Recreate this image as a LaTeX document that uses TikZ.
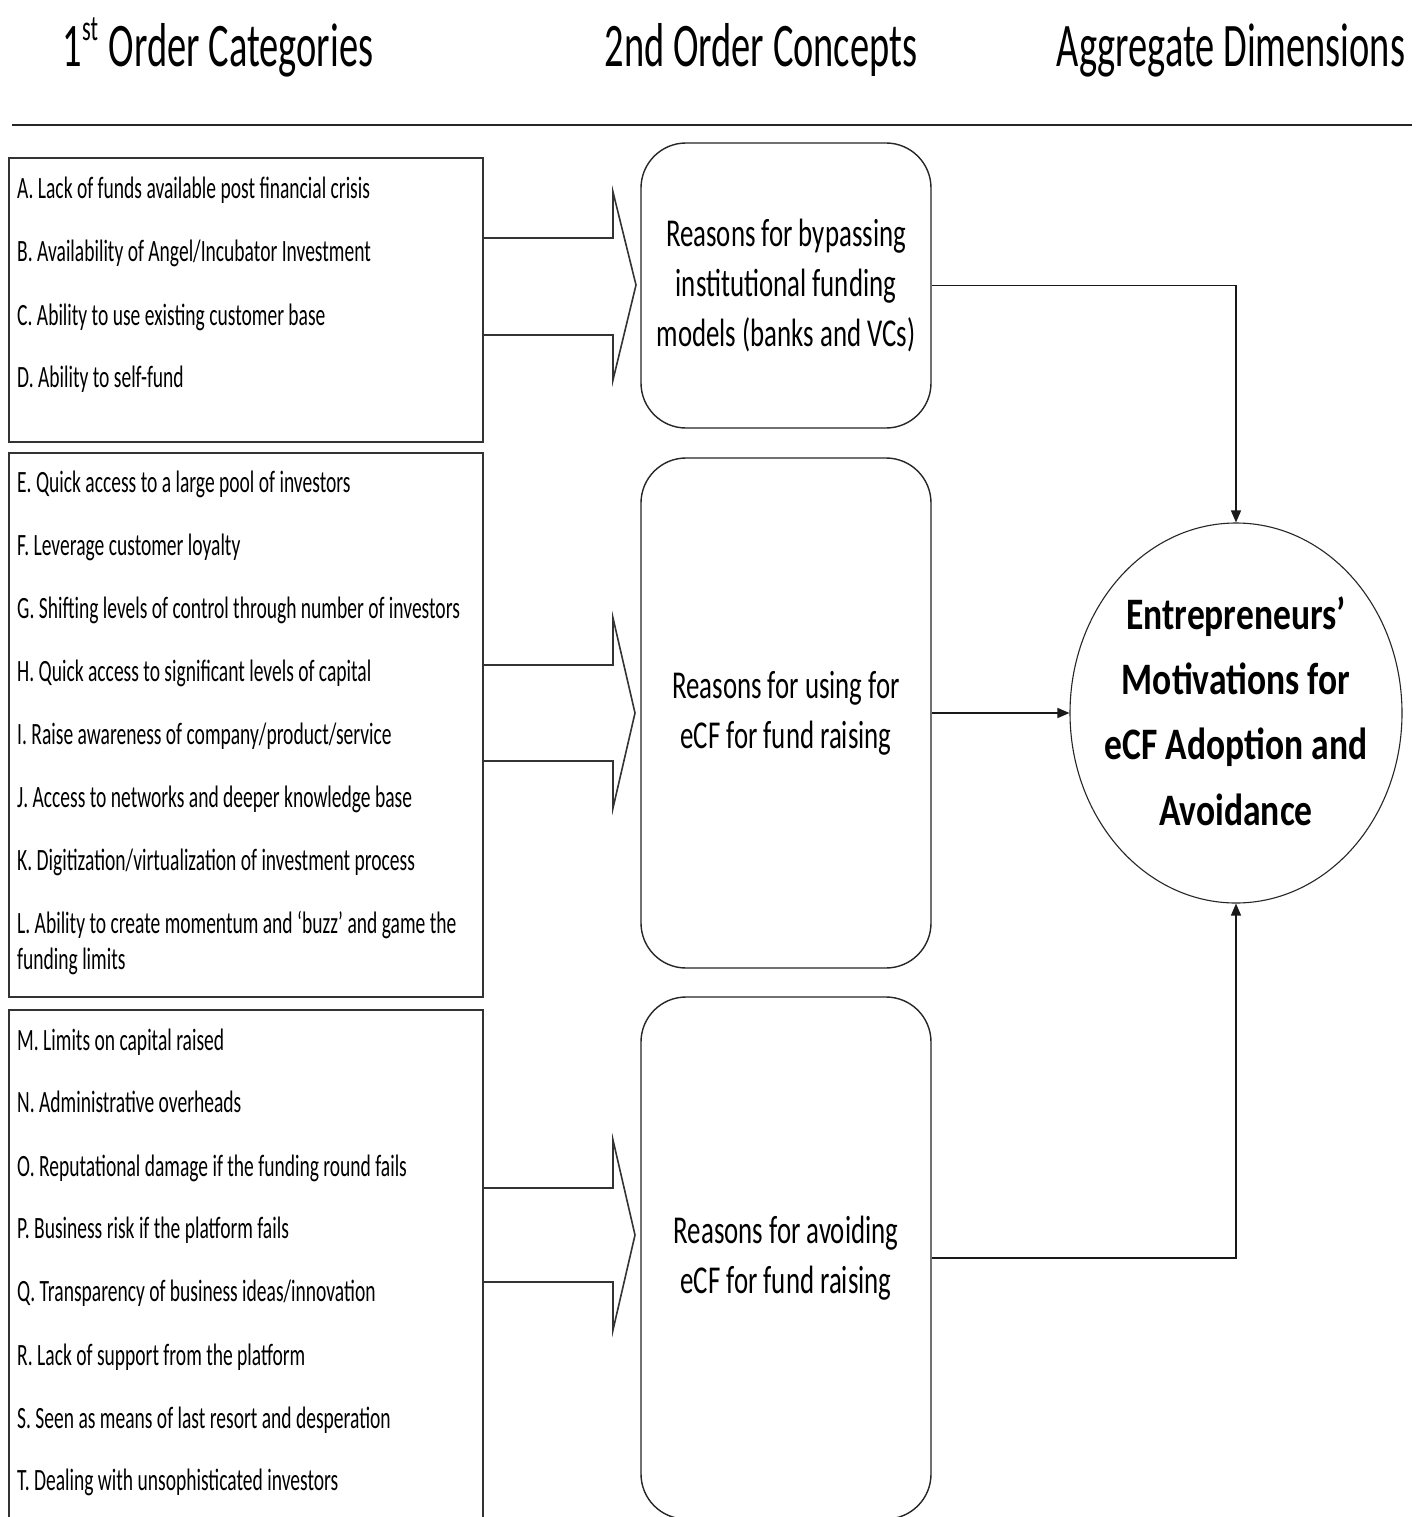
\documentclass[tikz,border=0pt]{standalone}
\usepackage{fontspec}
\setmainfont{Carlito}
\newfontfamily\itemfont[FakeStretch=0.63]{Carlito}
\newfontfamily\headfont[FakeStretch=0.62]{Carlito}
\newfontfamily\midfont[FakeStretch=0.68]{Carlito}
\newfontfamily\circfont[FakeStretch=0.79]{Carlito}
\usetikzlibrary{arrows.meta,calc,shapes.geometric}
\begin{document}
\begin{tikzpicture}[x=1pt,y=-1pt,
  itm/.style={anchor=base west, inner sep=0pt, font=\itemfont\fontsize{31}{36}\selectfont},
  hdr/.style={anchor=base, inner sep=0pt, font=\headfont\fontsize{62}{70}\selectfont},
  catbox/.style={draw=black!80, line width=1.8pt, inner sep=0pt},
  concept/.style={draw=black!85, line width=1.4pt, rounded corners=45pt, minimum width=290pt, align=center, inner sep=0pt, font=\midfont\fontsize{39.5}{50}\selectfont},
  aggr/.style={ellipse, draw=black!85, line width=1.1pt, minimum width=332pt, minimum height=380pt, inner sep=0pt},
  aggrtext/.style={align=center, inner sep=0pt, font=\circfont\bfseries\fontsize{45}{65.3}\selectfont},
  blockarrow/.style={draw=black!80, line width=1.6pt, line join=miter},
  conn/.style={draw=black!90, line width=1.3pt, -{Triangle[length=12pt,width=10pt]}}
]
\useasboundingbox (0,0) rectangle (1422,1517);
\clip (0,0) rectangle (1422,1517);
\fill[white] (0,0) rectangle (1422,1517);

% headers
\node[hdr] (h1) at (218,67) {1\raisebox{26pt}{\fontsize{36}{36}\selectfont st}\hspace{2pt} Order Categories};
\node[hdr] (h2) at (761,67) {2nd Order Concepts};
\node[hdr] (h3) at (1231,67) {Aggregate Dimensions};
\coordinate (rl) at (12,125);
\coordinate (rr) at (1412,125);
\draw[line width=2.2pt, black!85] (rl) -- (rr);

% category boxes
\node[catbox, minimum width=474pt, minimum height=284pt] (c1) at (246,300) {};
\node[catbox, minimum width=474pt, minimum height=544pt] (c2) at (246,725) {};
\node[catbox, minimum width=474pt, minimum height=540pt] (c3) at (246,1280) {};

% items
\node[itm] (iA) at (17,198) {A. Lack of funds available post financial crisis};
\node[itm] (iB) at (17,261) {B. Availability of Angel/Incubator Investment};
\node[itm] (iC) at (17,325) {C. Ability to use existing customer base};
\node[itm] (iD) at (17,387) {D. Ability to self-fund};
\node[itm] (iE) at (17,492) {E. Quick access to a large pool of investors};
\node[itm] (iF) at (17,555) {F. Leverage customer loyalty};
\node[itm] (iG) at (17,618) {G. Shifting levels of control through number of investors};
\node[itm] (iH) at (17,681) {H. Quick access to significant levels of capital};
\node[itm] (iI) at (17,744) {I. Raise awareness of company/product/service};
\node[itm] (iJ) at (17,807) {J. Access to networks and deeper knowledge base};
\node[itm] (iK) at (17,870) {K. Digitization/virtualization of investment process};
\node[itm] (iL) at (17,933) {L. Ability to create momentum and ‘buzz’ and game the};
\node[itm] (iL2) at (17,969) {funding limits};
\node[itm] (iM) at (17,1050) {M. Limits on capital raised};
\node[itm] (iN) at (17,1112) {N. Administrative overheads};
\node[itm] (iO) at (17,1176) {O. Reputational damage if the funding round fails};
\node[itm] (iP) at (17,1238) {P. Business risk if the platform fails};
\node[itm] (iQ) at (17,1301) {Q. Transparency of business ideas/innovation};
\node[itm] (iR) at (17,1365) {R. Lack of support from the platform};
\node[itm] (iS) at (17,1428) {S. Seen as means of last resort and desperation};
\node[itm] (iT) at (17,1490) {T. Dealing with unsophisticated investors};

% concepts
\node[concept, minimum height=285pt] (r1) at (786,285.5) {Reasons for bypassing\\institutional funding\\models (banks and VCs)};
\node[concept, minimum height=510pt] (r2) at (786,713) {Reasons for using for\\eCF for fund raising};
\node[concept, minimum height=522pt] (r3) at (786,1258) {Reasons for avoiding\\eCF for fund raising};

% aggregate
\node[aggr] (ag) at (1236,713) {};
\node[aggrtext] (agt) at (1236,711) {Entrepreneurs’\\Motivations for\\eCF Adoption and\\Avoidance};

% block arrows
\draw[blockarrow] (483,238) -- (613,238) -- (613,192) -- (636,285) -- (613,380) -- (613,335) -- (483,335);
\draw[blockarrow] (483,665) -- (613,665) -- (613,618) -- (635,713) -- (613,808) -- (613,761) -- (483,761);
\draw[blockarrow] (483,1188) -- (613,1188) -- (613,1140) -- (635,1235) -- (613,1330) -- (613,1282) -- (483,1282);

% connectors
\draw[conn] (r1.east) -| (ag.north);
\draw[conn] (r2.east) -- (ag.west);
\draw[conn] (r3.east) -| (ag.south);
\end{tikzpicture}
\end{document}
